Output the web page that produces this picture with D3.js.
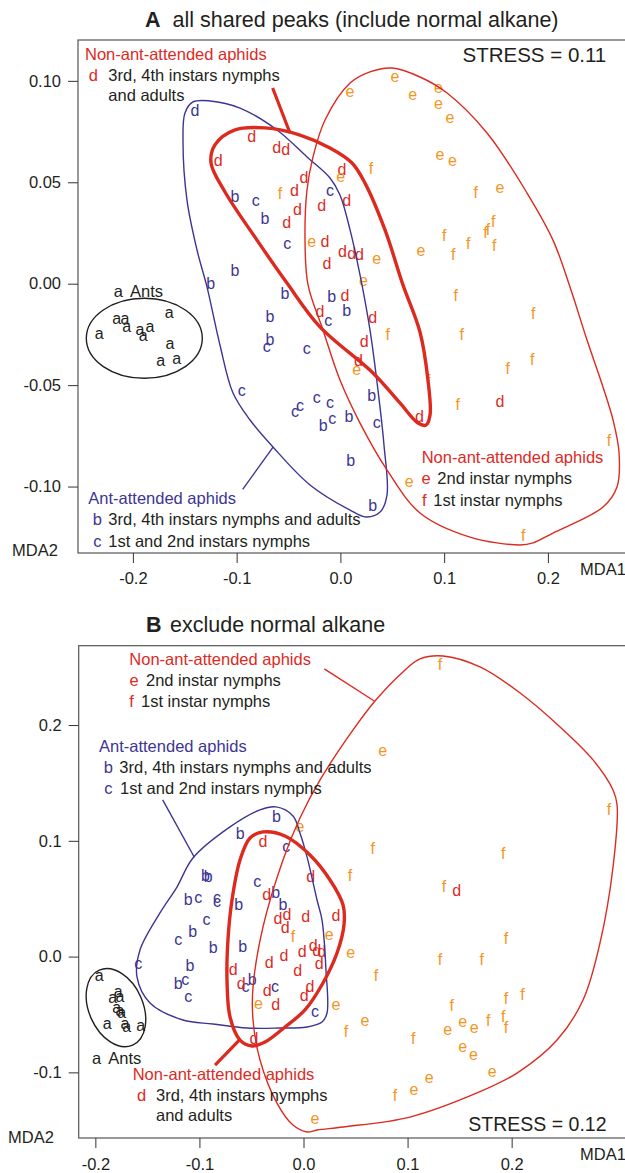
<!DOCTYPE html>
<html>
<head>
<meta charset="utf-8">
<script src="https://cdn.jsdelivr.net/npm/d3@7"></script>
<style>
  body { margin: 0; background: #fff; }
  svg { display: block; font-family: "Liberation Sans", Arial, Helvetica, sans-serif; }
</style>
</head>
<body>
<div id="chart"></div>
<script>
// ---------- panel A : all shared peaks (include normal alkane) ----------
const antsA = [[-0.2324,-0.0253],[-0.2156,-0.0176],[-0.2076,-0.0179],[-0.2060,-0.0217],[-0.1932,-0.0232],
  [-0.1900,-0.0261],[-0.1835,-0.0220],[-0.1649,-0.0149],[-0.1643,-0.0302],[-0.1732,-0.0385],[-0.1578,-0.0373]];
const attAdultsA = [[-0.1016,0.0432],[-0.0727,0.0325],[-0.1016,0.0068],[-0.1250,0.0002],[-0.0534,-0.0047],
  [-0.0084,-0.0064],[0.0061,-0.0130],[-0.0679,-0.0159],[-0.0679,-0.0274],[0.0302,-0.0549],[-0.0165,-0.0697],
  [0.0083,-0.0652],[0.0099,-0.0869],[0.0311,-0.1093]];
const strayA = [[-0.1402,0.0856]];   // the blue "d" at the top of the hull
const attNymphsA = [[-0.0817,0.0404],[-0.0512,0.0191],[-0.0100,0.0454],[-0.0117,-0.0187],[-0.0710,-0.0316],
  [-0.0325,-0.0327],[-0.0951,-0.0535],[-0.0438,-0.0636],[-0.0389,-0.0609],[-0.0228,-0.0568],[-0.0100,-0.0593],
  [-0.0078,-0.0672],[0.0350,-0.0692]];
const nonAdultsA = [[-0.0855,0.0725],[-0.0614,0.0675],[-0.0527,0.0663],[-0.1177,0.0610],[0.0015,0.0565],
  [-0.0351,0.0525],[-0.0444,0.0462],[0.0061,0.0413],[-0.0415,0.0368],[-0.0180,0.0385],[-0.0518,0.0303],
  [-0.0148,0.0207],[0.0020,0.0161],[0.0109,0.0150],[0.0184,0.0146],[-0.0129,0.0101],[0.0044,-0.0056],
  [-0.0197,-0.0135],[0.0311,-0.0163],[0.0230,-0.0282],[0.0173,-0.0376],[0.0761,-0.0652],[0.1538,-0.0577]];
const non2ndA = [[0.0526,0.1013],[0.0093,0.0942],[0.0697,0.0927],[0.0944,0.0963],[0.0944,0.0884],[0.1056,0.0812],
  [0.0960,0.0630],[0.1079,0.0601],[0.0003,0.0520],[0.1538,0.0470],[-0.0277,0.0199],[0.0777,0.0155],
  [0.0350,0.0117],[0.0221,0.0010],[0.0157,-0.0429],[0.0664,-0.0981]];
const non1stA = [[0.0295,0.0569],[-0.0582,0.0446],[0.1304,0.0449],[0.1474,0.0306],[0.1399,0.0256],[0.1423,0.0267],
  [0.1001,0.0240],[0.1233,0.0199],[0.1483,0.0191],[0.1088,0.0145],[0.1111,-0.0056],[0.1859,-0.0146],
  [0.0456,-0.0249],[0.1169,-0.0249],[0.1850,-0.0371],[0.1612,-0.0417],[0.0847,-0.0475],[0.1131,-0.0593],
  [0.2589,-0.0774],[0.1763,-0.1239]];

const hullAttA = [[-0.1421,0.0896],[-0.1257,0.0901],[-0.0968,0.0866],[-0.0611,0.0758],[-0.0322,0.0625],
  [-0.0100,0.0521],[-0.0004,0.0437],[0.0093,0.0265],[0.0189,0.0043],[0.0285,-0.0228],[0.0362,-0.0524],
  [0.0420,-0.0795],[0.0449,-0.1042],[0.0382,-0.1126],[0.0247,-0.1150],[0.0093,-0.1116],[-0.0293,-0.0992],
  [-0.0650,-0.0805],[-0.0871,-0.0672],[-0.1035,-0.0539],[-0.1161,-0.0302],[-0.1286,-0.0016],[-0.1382,0.0166],
  [-0.1479,0.0413],[-0.1517,0.0708],[-0.1498,0.0842]];
const hullAdultsA = [[-0.1209,0.0684],[-0.1016,0.0758],[-0.0727,0.0768],[-0.0389,0.0733],[-0.0100,0.0669],
  [0.0112,0.0595],[0.0237,0.0496],[0.0430,0.0265],[0.0603,-0.0006],[0.0767,-0.0238],[0.0844,-0.0475],
  [0.0864,-0.0647],[0.0825,-0.0697],[0.0748,-0.0687],[0.0574,-0.0588],[0.0314,-0.0440],[-0.0197,-0.0213],
  [-0.0515,0.0003],[-0.0804,0.0215],[-0.1112,0.0452],[-0.1247,0.0595]];
const hullNymphsA = [[0.0497,0.1063],[0.0767,0.1019],[0.1028,0.0940],[0.1413,0.0743],[0.1799,0.0447],
  [0.2049,0.0215],[0.2213,-0.0016],[0.2377,-0.0278],[0.2531,-0.0509],[0.2628,-0.0672],[0.2686,-0.0835],
  [0.2666,-0.1002],[0.2531,-0.1101],[0.2049,-0.1229],[0.1857,-0.1278],[0.1731,-0.1288],[0.1249,-0.1249],
  [0.0767,-0.1130],[0.0449,-0.0918],[0.0189,-0.0687],[-0.0004,-0.0475],[-0.0168,-0.0228],[-0.0312,-0.0006],
  [-0.0341,0.0215],[-0.0322,0.0462],[-0.0264,0.0625],[-0.0148,0.0807],[0.0093,0.0989],[0.0285,0.1044]];
const pointerAdultsA = [[-0.0653,0.0965],[-0.0486,0.0743]];
const pointerAttA = [[-0.0647,-0.0804],[-0.0942,-0.1014]];
const antCentreA = [-0.1890,-0.0269];

// ---------- panel B : exclude normal alkane ----------
const antsB = [[-0.1962,-0.0179],[-0.1780,-0.0317],[-0.1834,-0.0369],[-0.1763,-0.0352],[-0.1795,-0.0447],
  [-0.1763,-0.0476],[-0.1747,-0.0496],[-0.1885,-0.0591],[-0.1715,-0.0591],[-0.1699,-0.0619],[-0.1564,-0.0606]];
const attAdultsB = [[-0.0261,0.1209],[-0.0607,0.1065],[-0.0942,0.0701],[-0.0915,0.0696],[-0.1107,0.0499],
  [-0.0623,0.0448],[-0.0267,0.0556],[-0.0197,0.0456],[-0.1065,0.0215],[-0.0867,0.0079],[-0.0583,0.0092],
  [-0.1091,-0.0073],[-0.1203,-0.0226],[-0.0492,-0.0198]];
const attNymphsB = [[-0.0165,0.0936],[-0.0444,0.0633],[-0.1011,0.0499],[-0.0831,0.0495],[-0.0831,0.0466],
  [-0.0932,0.0309],[-0.1203,0.0135],[-0.1588,-0.0067],[-0.1136,-0.0208],[-0.0557,-0.0271],[-0.0274,-0.0269],
  [-0.1107,-0.0360],[0.0111,-0.0490]];
const nonAdultsB = [[-0.0389,0.0993],[0.0069,0.0692],[-0.0354,0.0541],[-0.0245,0.0335],[-0.0159,0.0366],
  [-0.0176,0.0256],[0.0022,0.0348],[0.0312,0.0355],[-0.0187,0.0014],[-0.0329,-0.0047],[-0.0012,0.0046],
  [0.0094,0.0100],[0.0127,0.0053],[0.0175,0.0048],[0.0152,-0.0061],[-0.0675,-0.0105],[-0.0056,-0.0122],
  [-0.0598,-0.0228],[-0.0349,-0.0289],[0.0062,-0.0260],[0.0007,-0.0332],[-0.0266,-0.0414],[-0.0476,-0.0702],
  [0.1472,0.0575]];
const non2ndB = [[-0.0034,0.1115],[0.0248,0.0178],[0.0454,0.0025],[-0.0434,-0.0414],[0.0312,-0.0425],
  [0.0591,-0.0565],[0.0761,0.1765],[0.1530,-0.0576],[0.1386,-0.0640],[0.1641,-0.0626],[0.1530,-0.0787],
  [0.1632,-0.0856],[0.1814,-0.1008],[0.1209,-0.1060],[0.1062,-0.1159],[0.0111,-0.1406]];
const non1stB = [[-0.0101,0.0180],[0.0447,0.0701],[0.0697,-0.0163],[0.0408,-0.0649],[0.1312,0.2525],
  [0.2936,0.1275],[0.0665,0.0936],[0.1920,0.0893],[0.1350,0.0607],[0.1946,0.0158],[0.1312,-0.0021],
  [0.1713,-0.0021],[0.2103,-0.0323],[0.1946,-0.0360],[0.1424,-0.0418],[0.1776,-0.0554],[0.1920,-0.0519],
  [0.1946,-0.0606],[0.1055,-0.0701],[0.0879,-0.1196]];

const hullAttB = [[-0.0264,0.1293],[-0.0101,0.1215],[-0.0034,0.1068],[0.0034,0.0861],[0.0130,0.0489],
  [0.0178,0.0316],[0.0216,-0.0116],[0.0226,-0.0487],[0.0178,-0.0565],[0.0034,-0.0608],[-0.0226,-0.0617],
  [-0.0543,-0.0617],[-0.0870,-0.0582],[-0.1158,-0.0548],[-0.1475,-0.0401],[-0.1600,-0.0176],[-0.1571,0.0057],
  [-0.1379,0.0377],[-0.1216,0.0601],[-0.1062,0.0852],[-0.0706,0.1120],[-0.0418,0.1267]];
const hullAdultsB = [[-0.0389,0.1077],[-0.0178,0.1042],[0.0062,0.0878],[0.0255,0.0662],[0.0380,0.0446],
  [0.0389,0.0273],[0.0322,0.0031],[0.0187,-0.0228],[0.0014,-0.0461],[-0.0178,-0.0608],[-0.0370,-0.0738],
  [-0.0495,-0.0772],[-0.0610,-0.0721],[-0.0706,-0.0522],[-0.0735,-0.0202],[-0.0726,0.0143],[-0.0687,0.0489],
  [-0.0610,0.0835],[-0.0514,0.1025]];
const hullNymphsB = [[0.1341,0.2597],[0.1696,0.2502],[0.2081,0.2277],[0.2465,0.1984],[0.2782,0.1699],
  [0.2974,0.1439],[0.3013,0.1310],[0.2974,0.0774],[0.2849,0.0118],[0.2686,-0.0375],[0.2436,-0.0721],
  [0.2052,-0.1006],[0.1667,-0.1178],[0.1023,-0.1386],[0.0380,-0.1472],[0.0130,-0.1498],[0.0034,-0.1515],
  [-0.0101,-0.1455],[-0.0255,-0.1265],[-0.0418,-0.0893],[-0.0485,-0.0548],[-0.0485,-0.0263],[-0.0389,0.0256],
  [-0.0197,0.0835],[-0.0034,0.1197],[0.0159,0.1526],[0.0476,0.1958],[0.0687,0.2208],[0.0956,0.2459],
  [0.1119,0.2571]];
const pointerNymphsB = [[0.0200,0.2485],[0.0680,0.2208]];
const pointerAttB = [[-0.1353,0.1353],[-0.1049,0.0858]];
const pointerAdultsB = [[-0.0850,-0.0937],[-0.0617,-0.0721]];
const antCentreB = [-0.1802,-0.0441];

const xTicks = [-0.2, -0.1, 0.0, 0.1, 0.2];
const yTicksA = [-0.10, -0.05, 0.00, 0.05, 0.10];
const yTicksB = [-0.1, 0.0, 0.1, 0.2];

// ---------- drawing ----------
const RED = '#dc2a1f', BLUE = '#3c3594', ORANGE = '#f4961e', INK = '#231f20';
const ascender = new Set(['b', 'd', 'f']);

const svg = d3.select('#chart').append('svg')
  .attr('width', 625)
  .attr('height', 1173);

function label(g, x, y, str, color, size, anchor, weight) {
  g.append('text')
    .attr('x', x).attr('y', y)
    .attr('fill', color || INK)
    .attr('font-size', size || 16.5)
    .attr('text-anchor', anchor || 'start')
    .attr('font-weight', weight || 'normal')
    .text(str);
}

function panel(cfg) {
  const g = svg.append('g');
  const x = cfg.x, y = cfg.y;

  g.append('rect')
    .attr('x', cfg.box[0]).attr('y', cfg.box[1])
    .attr('width', cfg.box[2] - cfg.box[0])
    .attr('height', cfg.box[3] - cfg.box[1])
    .attr('fill', 'none')
    .attr('stroke', '#555')
    .attr('stroke-width', 1.2);

  const axisStyle = a => {
    a.select('.domain').remove();
    a.attr('font-family', null).attr('font-size', 16.5).style('color', '#333');
    a.selectAll('.tick text').attr('fill', INK);
  };
  g.append('g')
    .attr('transform', `translate(${cfg.box[0]},0)`)
    .call(d3.axisLeft(y).tickValues(cfg.yTicks)
      .tickFormat(d => d.toFixed(cfg.yDigits)).tickSize(10).tickPadding(7))
    .call(axisStyle);
  g.append('g')
    .attr('transform', `translate(0,${cfg.box[3]})`)
    .call(d3.axisBottom(x).tickValues(xTicks)
      .tickFormat(d => d.toFixed(1)).tickSize(10).tickPadding(cfg.xPad))
    .call(axisStyle);

  // letters
  cfg.groups.forEach(grp => {
    g.append('g').selectAll('text')
      .data(grp.pts)
      .join('text')
      .attr('x', d => x(d[0]))
      .attr('y', d => y(d[1]))
      .attr('dy', ascender.has(grp.label) ? '0.36em' : '0.26em')
      .attr('text-anchor', 'middle')
      .attr('font-size', 16)
      .attr('fill', grp.color)
      .text(grp.label);
  });

  // hulls
  const hull = d3.line()
    .x(d => x(d[0])).y(d => y(d[1]))
    .curve(d3.curveCatmullRomClosed.alpha(0.5));
  const seg = d3.line().x(d => x(d[0])).y(d => y(d[1]));
  cfg.hulls.forEach(h => {
    g.append('path')
      .attr('d', hull(h.pts))
      .attr('fill', 'none')
      .attr('stroke', h.color)
      .attr('stroke-width', h.w);
  });
  cfg.pointers.forEach(p => {
    g.append('path')
      .attr('d', seg(p.pts))
      .attr('fill', 'none')
      .attr('stroke', p.color)
      .attr('stroke-width', p.w);
  });

  // ants ellipse
  const e = cfg.ellipse;
  g.append('ellipse')
    .attr('transform', `translate(${x(e.c[0])},${y(e.c[1])}) rotate(${e.rot})`)
    .attr('rx', e.rx).attr('ry', e.ry)
    .attr('fill', 'none')
    .attr('stroke', INK)
    .attr('stroke-width', 1.4);

  cfg.texts.forEach(t => label(g, ...t));
}

panel({
  x: d3.scaleLinear().domain([-0.2, 0.2]).range([132.9, 547.9]),
  y: d3.scaleLinear().domain([-0.1, 0.1]).range([486.55, 80.85]),
  box: [78, 40, 700, 553],
  yTicks: yTicksA, yDigits: 2, xPad: 9,
  groups: [
    {label: 'a', color: INK, pts: antsA},
    {label: 'b', color: BLUE, pts: attAdultsA},
    {label: 'd', color: BLUE, pts: strayA},
    {label: 'c', color: BLUE, pts: attNymphsA},
    {label: 'd', color: RED, pts: nonAdultsA},
    {label: 'e', color: ORANGE, pts: non2ndA},
    {label: 'f', color: ORANGE, pts: non1stA}
  ],
  hulls: [
    {pts: hullAttA, color: BLUE, w: 1.4},
    {pts: hullNymphsA, color: RED, w: 1.4},
    {pts: hullAdultsA, color: RED, w: 3.4}
  ],
  pointers: [
    {pts: pointerAdultsA, color: RED, w: 3.2},
    {pts: pointerAttA, color: BLUE, w: 1.4}
  ],
  ellipse: {c: antCentreA, rx: 58, ry: 40, rot: 0},
  texts: [
    [145, 26.7, 'A', INK, 21.5, 'start', 'bold'],
    [172.5, 26.7, 'all shared peaks (include normal alkane)', INK, 21.5],
    [462.5, 62, 'STRESS = 0.11', INK, 20.5],
    [85, 59.5, 'Non-ant-attended aphids', RED],
    [93.3, 81, 'd', RED, 16.5, 'middle'],
    [108.3, 81, '3rd, 4th instars nymphs'],
    [108.3, 100.7, 'and adults'],
    [118.3, 296.7, 'a', INK, 16.5, 'middle'],
    [130, 296.7, 'Ants'],
    [88.3, 504, 'Ant-attended aphids', BLUE],
    [97.3, 525, 'b', BLUE, 16.5, 'middle'],
    [108.3, 525, '3rd, 4th instars nymphs and adults'],
    [97.3, 546.7, 'c', BLUE, 16.5, 'middle'],
    [108.3, 546.7, '1st and 2nd instars nymphs'],
    [421.7, 463.3, 'Non-ant-attended aphids', RED],
    [426, 484, 'e', RED, 16.5, 'middle'],
    [437.3, 484, '2nd instar nymphs'],
    [424.3, 506, 'f', RED, 16.5, 'middle'],
    [433.3, 506, '1st instar nymphs'],
    [12, 556, 'MDA2'],
    [580, 575, 'MDA1']
  ]
});

panel({
  x: d3.scaleLinear().domain([-0.2, 0.2]).range([95.35, 511.65]),
  y: d3.scaleLinear().domain([-0.1, 0.2]).range([1072.37, 725.06]),
  box: [78.7, 645.7, 700, 1138],
  yTicks: yTicksB, yDigits: 1, xPad: 10,
  groups: [
    {label: 'a', color: INK, pts: antsB},
    {label: 'b', color: BLUE, pts: attAdultsB},
    {label: 'c', color: BLUE, pts: attNymphsB},
    {label: 'd', color: RED, pts: nonAdultsB},
    {label: 'e', color: ORANGE, pts: non2ndB},
    {label: 'f', color: ORANGE, pts: non1stB}
  ],
  hulls: [
    {pts: hullAttB, color: BLUE, w: 1.4},
    {pts: hullNymphsB, color: RED, w: 1.4},
    {pts: hullAdultsB, color: RED, w: 3.4}
  ],
  pointers: [
    {pts: pointerNymphsB, color: RED, w: 1.4},
    {pts: pointerAttB, color: BLUE, w: 1.4},
    {pts: pointerAdultsB, color: RED, w: 3.2}
  ],
  ellipse: {c: antCentreB, rx: 41, ry: 27, rot: 66},
  texts: [
    [146, 632, 'B', INK, 21.5, 'start', 'bold'],
    [170, 632, 'exclude normal alkane', INK, 21.5],
    [468.3, 1130.7, 'STRESS = 0.12', INK, 19.5],
    [129.3, 665, 'Non-ant-attended aphids', RED],
    [134.2, 686, 'e', RED, 16.5, 'middle'],
    [146, 686, '2nd instar nymphs'],
    [131.5, 707, 'f', RED, 16.5, 'middle'],
    [141, 707, '1st instar nymphs'],
    [99, 751.7, 'Ant-attended aphids', BLUE],
    [108.3, 773, 'b', BLUE, 16.5, 'middle'],
    [119.3, 773, '3rd, 4th instars nymphs and adults'],
    [108.3, 794, 'c', BLUE, 16.5, 'middle'],
    [120, 794, '1st and 2nd instars nymphs'],
    [96.7, 1064, 'a', INK, 16.5, 'middle'],
    [108.3, 1064, 'Ants'],
    [132.7, 1080, 'Non-ant-attended aphids', RED],
    [141.7, 1100.7, 'd', RED, 16.5, 'middle'],
    [156, 1100.7, '3rd, 4th instars nymphs'],
    [156, 1120.7, 'and adults'],
    [8, 1143, 'MDA2'],
    [580, 1160, 'MDA1']
  ]
});
</script>
</body>
</html>
